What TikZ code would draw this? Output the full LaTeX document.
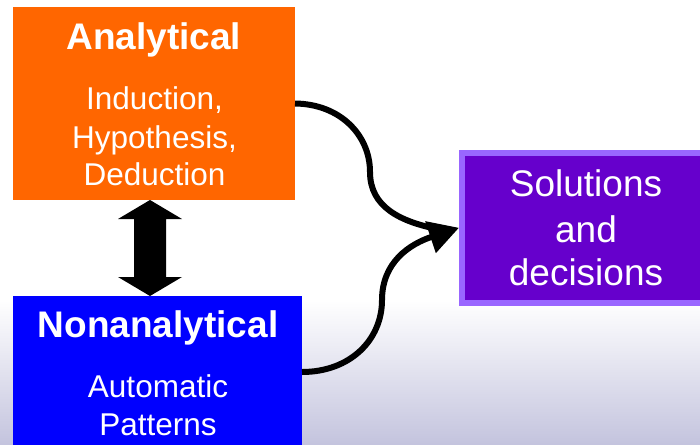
\documentclass[tikz,border=0pt]{standalone}
\usepackage{fontspec}
\setmainfont{Liberation Sans}
\usetikzlibrary{arrows.meta,calc}

\definecolor{anaorange}{HTML}{FF6600}
\definecolor{nonblue}{HTML}{0000FF}
\definecolor{solpurple}{HTML}{6600CC}
\definecolor{solrim}{HTML}{9966FF}
\definecolor{floorlav}{HTML}{C4C4DE}

\tikzset{
  box/.style={rectangle, inner sep=0pt, outer sep=0pt},
  title/.style={anchor=base, text=white, font=\fontsize{37}{44}\selectfont\bfseries},
  body/.style={anchor=base, text=white, font=\fontsize{31.5}{38}\selectfont},
  soltext/.style={anchor=base, text=white, font=\fontsize{37}{44}\selectfont},
  flow/.style={line width=6pt, black},
}

\begin{document}
\begin{tikzpicture}[x=1pt, y=-1pt]
  \useasboundingbox (0,0) rectangle (700,444);
  \clip (0,0) rectangle (700,444);

  % backdrop: white fading into lavender towards the bottom
  \fill[white] (0,0) rectangle (700,444);
  \shade[top color=white, bottom color=floorlav] (0,300) rectangle (700,444);

  % boxes
  \node[box, fill=anaorange, minimum width=282.5pt, minimum height=193pt]
    (ana) at (153.75,103.5) {};
  \node[box, fill=nonblue, minimum width=289pt, minimum height=152pt]
    (non) at (157.5,372) {};
  \node[box, fill=solpurple, draw=solrim, line width=6pt, outer sep=3pt,
        minimum width=250pt, minimum height=150.5pt]
    (sol) at (587,227.75) {};

  % texts
  \node[title] (anaT) at (153.75,49) {Analytical};
  \node[body] (ana1) at (154.5,109) {Induction,};
  \node[body] (ana2) at (154.5,148) {Hypothesis,};
  \node[body] (ana3) at (154.5,185) {Deduction};

  \node[title] (nonT) at (158,337) {Nonanalytical};
  \node[body] (non1) at (158,397) {Automatic};
  \node[body] (non2) at (158,435) {Patterns};

  \node[soltext] (sol1) at (586,196) {Solutions};
  \node[soltext] (sol2) at (586,242) {and};
  \node[soltext] (sol3) at (586,285) {decisions};

  % two-way arrow between the two modes
  \coordinate (dblx) at (150,0);
  \coordinate (dtop) at (ana.south -| dblx);
  \coordinate (dbot) at (non.north -| dblx);
  \fill[black] (dtop) -- ++(32,19) -- ++(-16,0)
    -- ($(dbot)+(16,-19)$) -- ++(16,0) -- (dbot) -- ++(-32,-19)
    -- ++(16,0) -- ($(dtop)+(-16,19)$) -- ++(-16,0) -- cycle;

  % both modes lead to the outcome
  \coordinate (join) at ($(sol.west)+(-18,2)$);
  \draw[flow] (ana.east) .. controls (340,104) and (370,135) .. (370,172)
    .. controls (370,207) and (400,222) .. (join);
  \draw[flow, -{Triangle[length=30pt,width=32pt]}]
    ($(non.north east)+(0,76)$) .. controls (350,372) and (382,340) .. (382,300)
    .. controls (382,262) and (410,244) .. (sol.west);
\end{tikzpicture}
\end{document}
